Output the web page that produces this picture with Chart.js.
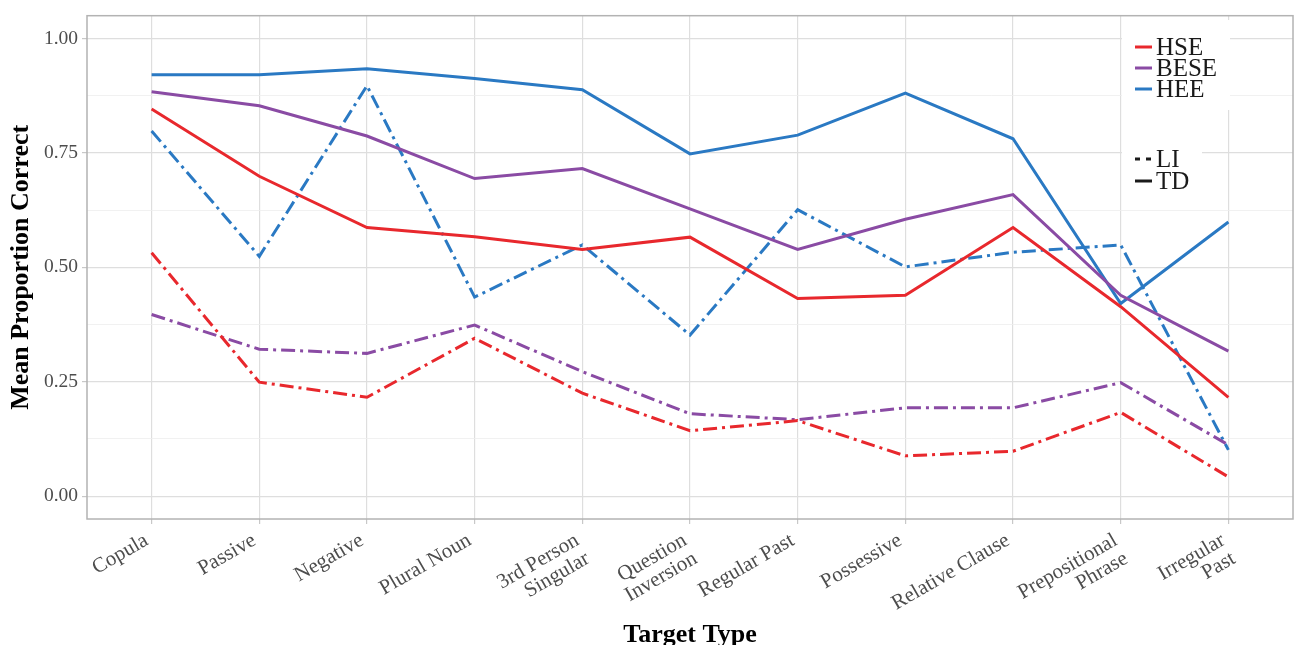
<!DOCTYPE html>
<html>
<head>
<meta charset="utf-8">
<script src="https://cdn.jsdelivr.net/npm/chart.js@4.4.1/dist/chart.umd.min.js"></script>
<style>
  body { margin: 0; background: #fff; }
  #wrap { width: 1295px; height: 645px; }
</style>
</head>
<body>
<div id="wrap"><canvas id="chart" width="1295" height="645"></canvas></div>
<script>
// categories on the x axis
var targetTypes = ['Copula', 'Passive', 'Negative', 'Plural Noun', ['3rd Person', 'Singular'],
    ['Question', 'Inversion'], 'Regular Past', 'Possessive', 'Relative Clause',
    ['Prepositional', 'Phrase'], ['Irregular', 'Past']];

// mean proportion correct
var hseTD  = [0.846, 0.699, 0.587, 0.567, 0.539, 0.566, 0.432, 0.439, 0.587, 0.414, 0.216];
var beseTD = [0.884, 0.853, 0.787, 0.694, 0.716, 0.628, 0.539, 0.605, 0.659, 0.439, 0.317];
var heeTD  = [0.921, 0.921, 0.934, 0.913, 0.888, 0.748, 0.789, 0.881, 0.781, 0.421, 0.599];
var hseLI  = [0.532, 0.249, 0.216, 0.345, 0.225, 0.143, 0.165, 0.088, 0.098, 0.183, 0.042];
var beseLI = [0.397, 0.321, 0.312, 0.374, 0.272, 0.180, 0.167, 0.193, 0.193, 0.248, 0.112];
var heeLI  = [0.798, 0.524, 0.897, 0.435, 0.549, 0.352, 0.626, 0.501, 0.533, 0.549, 0.101];

var yTicks = [0, 0.125, 0.25, 0.375, 0.5, 0.625, 0.75, 0.875, 1];
var groupNames = ['HSE', 'BESE', 'HEE'];
var typeNames = ['LI', 'TD'];

var RED = '#e8282d', PURPLE = '#8a4ba4', BLUE = '#2a79c3';
var DASHDOT = [14, 5, 3, 5];
var SERIF = '"Liberation Serif", "Times New Roman", serif';

function toPoints(values) {
    var pts = [];
    for (var i = 0; i < values.length; i++) {
        pts.push({ x: i, y: values[i] });
    }
    return pts;
}

function line(label, values, color, dash) {
    return {
        label: label,
        data: toPoints(values),
        borderColor: color,
        backgroundColor: color,
        borderWidth: 3,
        borderDash: dash,
        borderCapStyle: 'butt',
        pointRadius: 0,
        tension: 0,
        fill: false
    };
}

function isMajor(v) {
    return Math.abs(v * 4 - Math.round(v * 4)) < 1e-6;
}

// panel border + the two ggplot-style legends inside the panel
var frameAndLegend = {
    id: 'frameAndLegend',
    afterDraw: function (chart) {
        var ctx = chart.ctx;
        var a = chart.chartArea;
        ctx.save();
        ctx.strokeStyle = '#b3b3b3';
        ctx.lineWidth = 1.5;
        ctx.strokeRect(a.left, a.top, a.right - a.left, a.bottom - a.top);

        ctx.fillStyle = '#fff';
        ctx.fillRect(1122, 20, 108, 90);
        ctx.fillRect(1122, 140, 80, 56);

        ctx.font = '25px ' + SERIF;
        ctx.textBaseline = 'middle';
        ctx.textAlign = 'left';
        var colors = [RED, PURPLE, BLUE];
        for (var i = 0; i < groupNames.length; i++) {
            var y = 47 + i * 21;
            ctx.strokeStyle = colors[i];
            ctx.lineWidth = 3;
            ctx.setLineDash([]);
            ctx.beginPath();
            ctx.moveTo(1135, y);
            ctx.lineTo(1152, y);
            ctx.stroke();
            ctx.fillStyle = '#1a1a1a';
            ctx.fillText(groupNames[i], 1156, y + 1);
        }
        for (var j = 0; j < typeNames.length; j++) {
            var y2 = 159 + j * 22;
            ctx.strokeStyle = '#1a1a1a';
            ctx.lineWidth = 3;
            ctx.setLineDash(j === 0 ? [5, 6] : []);
            ctx.beginPath();
            ctx.moveTo(1135, y2);
            ctx.lineTo(1152, y2);
            ctx.stroke();
            ctx.fillStyle = '#1a1a1a';
            ctx.fillText(typeNames[j], 1156, y2 + 1);
        }
        ctx.restore();
    }
};

var ctx = document.getElementById('chart').getContext('2d');
var chart = new Chart(ctx, {
    type: 'line',
    data: {
        datasets: [
            line('HSE TD', hseTD, RED, []),
            line('BESE TD', beseTD, PURPLE, []),
            line('HEE TD', heeTD, BLUE, []),
            line('HSE LI', hseLI, RED, DASHDOT),
            line('BESE LI', beseLI, PURPLE, DASHDOT),
            line('HEE LI', heeLI, BLUE, DASHDOT)
        ]
    },
    options: {
        responsive: false,
        animation: false,
        layout: { padding: { top: 15, right: 2, left: 0, bottom: 0 } },
        plugins: {
            legend: { display: false },
            tooltip: { enabled: false }
        },
        scales: {
            x: {
                type: 'linear',
                min: -0.6,
                max: 10.6,
                afterBuildTicks: function (scale) {
                    scale.ticks = targetTypes.map(function (t, i) { return { value: i }; });
                },
                afterFit: function (scale) { scale.height = 126; },
                border: { display: false },
                grid: {
                    color: '#dedede',
                    lineWidth: 1.2,
                    tickColor: '#c8c8c8',
                    tickLength: 5
                },
                ticks: {
                    autoSkip: false,
                    minRotation: 30,
                    maxRotation: 30,
                    padding: 6,
                    labelOffset: -5,
                    color: '#4d4d4d',
                    font: { family: SERIF, size: 21, lineHeight: 1.0 },
                    callback: function (value) { return targetTypes[value]; }
                },
                title: {
                    display: true,
                    text: 'Target Type',
                    color: '#000',
                    font: { family: SERIF, size: 26, weight: 'bold', lineHeight: 0.75 },
                    padding: { top: 0, bottom: 0 }
                }
            },
            y: {
                type: 'linear',
                min: -0.05,
                max: 1.05,
                afterBuildTicks: function (scale) {
                    scale.ticks = yTicks.map(function (v) { return { value: v }; });
                },
                afterFit: function (scale) { scale.width = 87; },
                border: { display: false },
                grid: {
                    color: function (c) { return isMajor(c.tick.value) ? '#dedede' : '#ededed'; },
                    lineWidth: function (c) { return isMajor(c.tick.value) ? 1.2 : 0.8; },
                    tickColor: function (c) { return isMajor(c.tick.value) ? '#c8c8c8' : 'rgba(0,0,0,0)'; },
                    tickLength: 5
                },
                ticks: {
                    padding: 4,
                    color: '#4d4d4d',
                    font: { family: SERIF, size: 19.5 },
                    callback: function (value) { return isMajor(value) ? value.toFixed(2) : ''; }
                },
                title: {
                    display: true,
                    text: 'Mean Proportion Correct',
                    color: '#000',
                    font: { family: SERIF, size: 26, weight: 'bold', lineHeight: 1.1 },
                    padding: { top: 7, bottom: 0 }
                }
            }
        }
    },
    plugins: [frameAndLegend]
});
</script>
</body>
</html>
